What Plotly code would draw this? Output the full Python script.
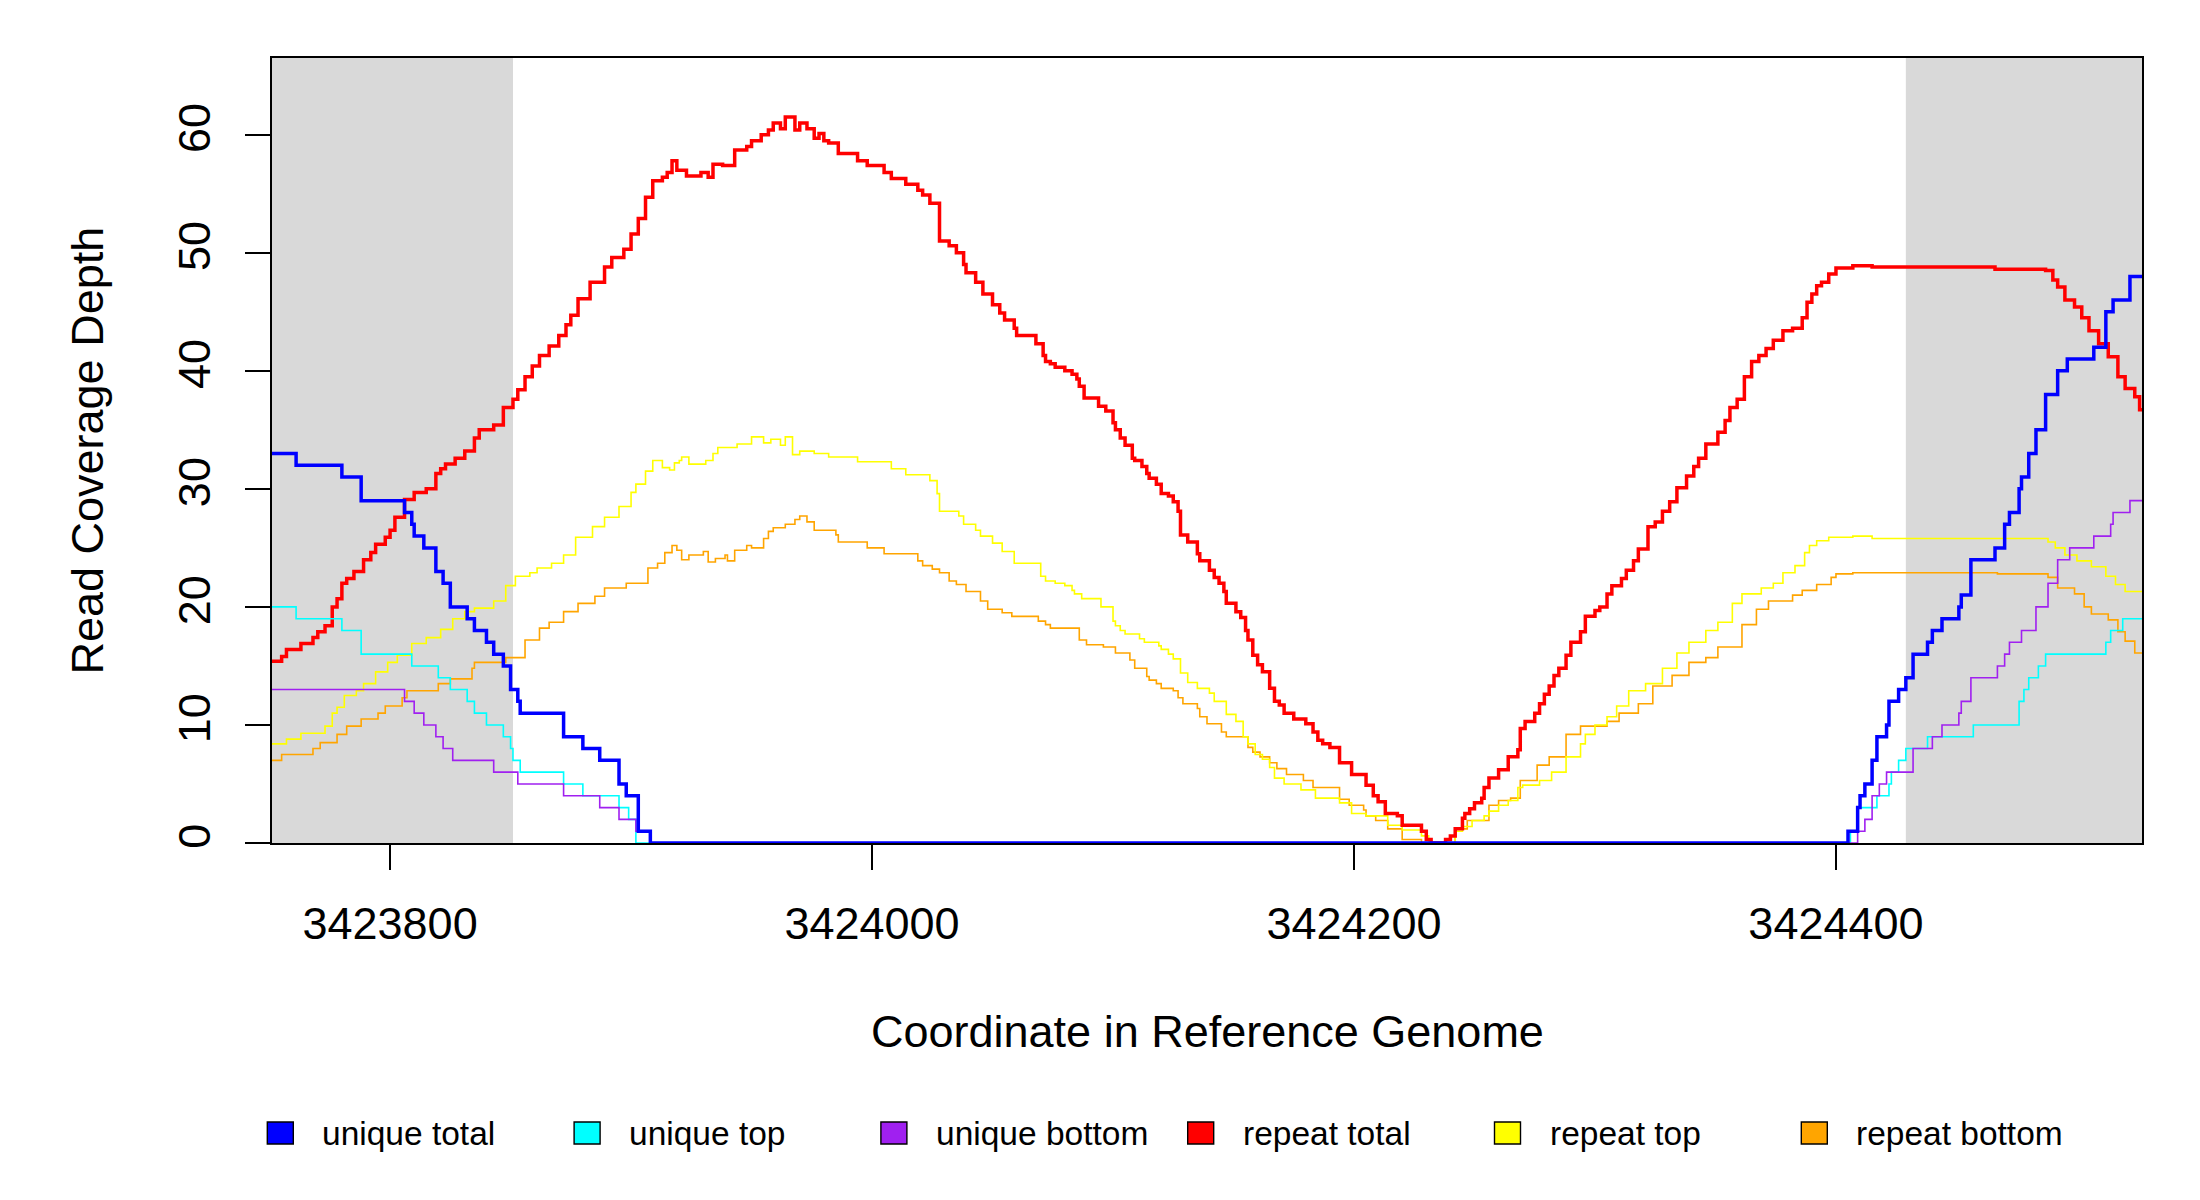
import plotly.graph_objects as go

# region shown and the two flanking windows (shaded)
x_start, x_end = 3423751, 3424527
flank_left = (3423751, 3423851)
flank_right = (3424429, 3424527)

x_ticks = [3423800, 3424000, 3424200, 3424400]
y_ticks = [0, 10, 20, 30, 40, 50, 60]

# unique reads
unique_total_pos = [3423751, 3423761, 3423780, 3423788, 3423806, 3423809, 3423810, 3423814, 3423819, 3423822,
                    3423825, 3423832, 3423835, 3423840, 3423843, 3423847, 3423850, 3423853, 3423854, 3423872,
                    3423880, 3423887, 3423895, 3423898, 3423903, 3423908,
                    3424405, 3424409, 3424410, 3424412, 3424415, 3424417, 3424421, 3424422, 3424426, 3424429,
                    3424432, 3424438, 3424440, 3424444, 3424451, 3424452, 3424456, 3424466, 3424470, 3424472,
                    3424476, 3424477, 3424480, 3424483, 3424487, 3424492, 3424496, 3424507, 3424512, 3424515,
                    3424522, 3424527]
unique_total = [33, 32, 31, 29, 28, 27, 26, 25, 23, 22, 20, 19, 18, 17, 16, 15, 13, 12, 11, 9, 8, 7, 5, 4, 1, 0,
                1, 3, 4, 5, 7, 9, 10, 12, 13, 14, 16, 17, 18, 19, 20, 21, 24, 25, 27, 28, 30, 31, 33, 35, 38, 40,
                41, 42, 45, 46, 48, 48]

unique_top_pos = [3423751, 3423761, 3423780, 3423788, 3423809, 3423820, 3423825, 3423832, 3423835, 3423840,
                  3423847, 3423850, 3423851, 3423854, 3423872, 3423880, 3423895, 3423899, 3423902,
                  3424406, 3424409, 3424417, 3424422, 3424423, 3424426, 3424429, 3424438, 3424457, 3424476,
                  3424478, 3424480, 3424484, 3424487, 3424512, 3424514, 3424519, 3424527]
unique_top = [20, 19, 18, 16, 15, 14, 13, 12, 11, 10, 9, 8, 7, 6, 5, 4, 3, 2, 0,
              1, 3, 4, 5, 6, 7, 8, 9, 10, 12, 13, 14, 15, 16, 17, 18, 19, 19]

unique_bottom_pos = [3423751, 3423806, 3423810, 3423814, 3423819, 3423822, 3423826, 3423843, 3423853, 3423872,
                     3423887, 3423895, 3423902, 3423908,
                     3424409, 3424412, 3424415, 3424418, 3424421, 3424432, 3424440, 3424444, 3424451, 3424452,
                     3424456, 3424467, 3424470, 3424472, 3424477, 3424483, 3424488, 3424492, 3424497, 3424507,
                     3424514, 3424515, 3424522, 3424527]
unique_bottom = [13, 12, 11, 10, 9, 8, 7, 6, 5, 4, 3, 2, 1, 0,
                 1, 2, 4, 5, 6, 8, 9, 10, 11, 12, 14, 15, 16, 17, 18, 20, 22, 24, 25, 26, 27, 28, 29, 29]

# repeat reads
repeat_total_pos = [
    3423751, 3423755, 3423757, 3423763, 3423768, 3423770, 3423773, 3423776, 3423778, 3423780,
    3423782, 3423785, 3423789, 3423792, 3423794, 3423798, 3423800, 3423802, 3423806, 3423810,
    3423815, 3423819, 3423821, 3423823, 3423827, 3423831, 3423835, 3423837, 3423843, 3423847,
    3423851, 3423853, 3423856, 3423859, 3423862, 3423866, 3423870, 3423873, 3423875, 3423878,
    3423883, 3423889, 3423892, 3423897, 3423900, 3423903, 3423906, 3423909, 3423913, 3423915,
    3423917, 3423919, 3423923, 3423929, 3423932, 3423934, 3423938, 3423943, 3423948, 3423950,
    3423954, 3423957, 3423959, 3423962, 3423964, 3423968, 3423970, 3423973, 3423976, 3423978,
    3423980, 3423982, 3423986, 3423994, 3423998, 3424005, 3424008, 3424014, 3424019, 3424021,
    3424024, 3424028, 3424032, 3424035, 3424038, 3424039, 3424043, 3424046, 3424050, 3424053,
    3424055, 3424059, 3424060, 3424068, 3424071, 3424072, 3424074, 3424076, 3424080, 3424083,
    3424085, 3424086, 3424088, 3424094, 3424097, 3424100, 3424101, 3424103, 3424105, 3424108,
    3424109, 3424112, 3424114, 3424115, 3424118, 3424120, 3424123, 3424125, 3424127, 3424128,
    3424131, 3424135, 3424136, 3424140, 3424142, 3424144, 3424146, 3424147, 3424151, 3424153,
    3424155, 3424156, 3424158, 3424160, 3424162, 3424165, 3424167, 3424169, 3424171, 3424175,
    3424180, 3424183, 3424185, 3424187, 3424190, 3424194, 3424199, 3424205, 3424208, 3424210,
    3424213, 3424218, 3424220, 3424228, 3424230, 3424232, 3424238, 3424240, 3424242, 3424245,
    3424246, 3424248, 3424250, 3424253, 3424254, 3424256, 3424260, 3424264, 3424268, 3424269,
    3424271, 3424275, 3424277, 3424279, 3424281, 3424283, 3424285, 3424288, 3424290, 3424294,
    3424296, 3424300, 3424302, 3424305, 3424307, 3424311, 3424313, 3424316, 3424318, 3424322,
    3424325, 3424328, 3424331, 3424334, 3424338, 3424341, 3424343, 3424346, 3424351, 3424354,
    3424356, 3424359, 3424362, 3424365, 3424368, 3424371, 3424374, 3424378, 3424382, 3424386,
    3424388, 3424390, 3424392, 3424394, 3424397, 3424400, 3424407, 3424415, 3424466, 3424487,
    3424490, 3424492, 3424495, 3424499, 3424502, 3424505, 3424509, 3424513, 3424517, 3424520,
    3424524, 3424526, 3424527]
repeat_total = [
    15.4, 15.8, 16.4, 16.9, 17.4, 17.9, 18.4, 20.0, 20.7, 22.0,
    22.4, 23.0, 24.0, 24.6, 25.3, 25.9, 26.5, 27.6, 29.1, 29.7,
    30.0, 31.3, 31.7, 32.1, 32.6, 33.2, 34.3, 35.0, 35.4, 36.9,
    37.6, 38.4, 39.5, 40.4, 41.3, 42.1, 43.0, 43.9, 44.7, 46.1,
    47.5, 48.8, 49.6, 50.3, 51.6, 52.9, 54.7, 56.1, 56.4, 56.8,
    57.8, 57.0, 56.5, 56.8, 56.4, 57.5, 57.4, 58.7, 59.0, 59.5,
    60.0, 60.4, 61.0, 60.5, 61.5, 60.4, 61.0, 60.5, 59.7, 60.1,
    59.5, 59.3, 58.4, 57.8, 57.4, 56.8, 56.3, 55.8, 55.3, 54.9,
    54.2, 51.0, 50.6, 50.0, 49.0, 48.3, 47.5, 46.5, 45.6, 44.9,
    44.3, 43.6, 43.0, 42.3, 41.3, 40.8, 40.6, 40.3, 40.0, 39.7,
    39.3, 38.7, 37.7, 37.0, 36.6, 35.6, 35.0, 34.3, 33.7, 32.6,
    32.4, 31.9, 31.3, 30.9, 30.4, 29.6, 29.4, 28.9, 28.1, 26.1,
    25.5, 24.5, 23.9, 23.1, 22.5, 22.0, 21.3, 20.3, 19.6, 19.1,
    18.0, 17.2, 15.9, 15.1, 14.5, 13.1, 12.0, 11.7, 11.0, 10.5,
    10.1, 9.4, 8.7, 8.4, 8.1, 6.8, 5.8, 4.9, 4.0, 3.5,
    2.5, 2.3, 1.5, 1.0, 0.3, 0.0, 0.3, 0.6, 1.2, 2.1,
    2.5, 2.9, 3.4, 3.8, 4.7, 5.5, 6.2, 7.3, 7.9, 9.7,
    10.3, 11.0, 11.8, 12.6, 13.3, 14.2, 14.8, 15.9, 17.0, 17.9,
    19.2, 19.7, 20.0, 21.1, 21.8, 22.4, 23.1, 23.9, 24.9, 26.8,
    27.2, 28.1, 28.9, 30.1, 31.1, 31.9, 32.6, 33.8, 34.8, 35.8,
    36.9, 37.6, 39.5, 40.8, 41.3, 41.9, 42.6, 43.4, 43.6, 44.5,
    45.8, 46.5, 47.2, 47.5, 48.2, 48.7, 48.9, 48.8, 48.6, 48.5,
    47.7, 47.1, 46.0, 45.4, 44.5, 43.4, 42.3, 41.2, 39.5, 38.5,
    37.8, 36.7, 36.7]

repeat_top_pos = [
    3423751, 3423757, 3423763, 3423773, 3423776, 3423778, 3423781, 3423786, 3423789, 3423794,
    3423799, 3423803, 3423809, 3423815, 3423821, 3423826, 3423831, 3423835, 3423843, 3423848,
    3423852, 3423858, 3423861, 3423867, 3423872, 3423877, 3423884, 3423889, 3423895, 3423900,
    3423902, 3423906, 3423909, 3423913, 3423916, 3423918, 3423920, 3423921, 3423924, 3423931,
    3423934, 3423936, 3423944, 3423950, 3423955, 3423958, 3423962, 3423964, 3423967, 3423970,
    3423976, 3423982, 3423994, 3424008, 3424014, 3424024, 3424027, 3424028, 3424036, 3424038,
    3424043, 3424045, 3424050, 3424054, 3424059, 3424070, 3424072, 3424076, 3424080, 3424083,
    3424084, 3424087, 3424095, 3424100, 3424101, 3424103, 3424105, 3424111, 3424113, 3424119,
    3424120, 3424123, 3424125, 3424128, 3424131, 3424135, 3424140, 3424142, 3424147, 3424151,
    3424154, 3424156, 3424159, 3424162, 3424165, 3424167, 3424171, 3424178, 3424184, 3424194,
    3424199, 3424205, 3424214, 3424220, 3424228, 3424231, 3424242, 3424245, 3424249, 3424254,
    3424256, 3424260, 3424264, 3424268, 3424270, 3424277, 3424282, 3424288, 3424294, 3424296,
    3424300, 3424305, 3424309, 3424314, 3424321, 3424328, 3424334, 3424339, 3424346, 3424351,
    3424357, 3424361, 3424369, 3424374, 3424378, 3424383, 3424387, 3424389, 3424392, 3424397,
    3424407, 3424415, 3424488, 3424491, 3424495, 3424500, 3424506, 3424512, 3424516, 3424520,
    3424527]
repeat_top = [
    8.4, 8.8, 9.3, 9.9, 11.0, 11.5, 12.5, 12.9, 13.5, 14.5,
    15.3, 15.9, 16.9, 17.4, 18.1, 19.0, 19.6, 19.9, 20.5, 21.8,
    22.6, 22.9, 23.3, 23.7, 24.4, 25.9, 26.8, 27.6, 28.5, 29.7,
    30.4, 31.5, 32.4, 31.8, 31.6, 32.2, 32.4, 32.7, 32.1, 32.4,
    33.0, 33.5, 33.8, 34.4, 33.9, 34.2, 33.7, 34.4, 32.9, 33.2,
    33.0, 32.7, 32.3, 31.7, 31.2, 30.7, 29.6, 28.1, 27.7, 27.0,
    26.5, 26.0, 25.4, 24.7, 23.7, 22.6, 22.2, 22.0, 21.8, 21.4,
    21.1, 20.7, 20.0, 18.8, 18.4, 18.0, 17.7, 17.3, 17.0, 16.7,
    16.4, 16.0, 15.6, 14.4, 13.6, 13.1, 12.7, 12.0, 10.9, 10.3,
    9.0, 8.4, 7.5, 7.1, 6.4, 5.5, 5.0, 4.5, 3.8, 3.4,
    2.5, 2.3, 1.5, 1.1, 0.6, 0.0, 1.0, 1.4, 1.9, 2.3,
    2.7, 3.2, 3.6, 4.7, 4.9, 5.3, 6.0, 7.3, 8.4, 9.2,
    10.0, 10.7, 11.6, 12.9, 13.5, 14.8, 16.1, 17.0, 18.0, 18.7,
    20.3, 21.1, 21.6, 22.0, 22.9, 23.5, 24.6, 25.2, 25.6, 25.9,
    26.0, 25.8, 25.5, 25.0, 24.4, 23.9, 23.4, 22.6, 21.9, 21.3,
    21.3]

repeat_bottom_pos = [
    3423751, 3423755, 3423768, 3423771, 3423778, 3423782, 3423788, 3423795, 3423798, 3423805,
    3423807, 3423820, 3423825, 3423834, 3423835, 3423848, 3423856, 3423862, 3423866, 3423872,
    3423878, 3423885, 3423889, 3423898, 3423907, 3423911, 3423914, 3423917, 3423919, 3423921,
    3423924, 3423930, 3423932, 3423935, 3423939, 3423940, 3423943, 3423948, 3423950, 3423955,
    3423957, 3423959, 3423964, 3423968, 3423970, 3423973, 3423976, 3423985, 3423986, 3423998,
    3424005, 3424019, 3424021, 3424025, 3424028, 3424032, 3424035, 3424039, 3424045, 3424048,
    3424054, 3424058, 3424069, 3424072, 3424074, 3424086, 3424089, 3424096, 3424101, 3424107,
    3424109, 3424114, 3424115, 3424118, 3424120, 3424125, 3424127, 3424129, 3424135, 3424136,
    3424139, 3424145, 3424147, 3424156, 3424158, 3424161, 3424165, 3424168, 3424172, 3424179,
    3424183, 3424194, 3424198, 3424204, 3424205, 3424209, 3424214, 3424220, 3424228, 3424242,
    3424247, 3424256, 3424260, 3424265, 3424269, 3424276, 3424281, 3424288, 3424294, 3424305,
    3424310, 3424318, 3424324, 3424332, 3424339, 3424346, 3424351, 3424361, 3424367, 3424372,
    3424382, 3424386, 3424392, 3424398, 3424400, 3424407, 3424467, 3424488, 3424492, 3424499,
    3424503, 3424506, 3424513, 3424517, 3424520, 3424524, 3424527]
repeat_bottom = [
    7.0, 7.5, 8.0, 8.5, 9.2, 9.9, 10.5, 11.0, 11.6, 12.3,
    12.9, 13.5, 13.9, 14.8, 15.3, 15.7, 17.2, 18.2, 18.7, 19.6,
    20.3, 20.9, 21.6, 22.0, 23.3, 23.7, 24.6, 25.2, 24.8, 24.0,
    24.4, 24.7, 23.8, 24.1, 24.4, 23.9, 24.8, 25.2, 25.0, 25.8,
    26.4, 26.7, 27.0, 27.4, 27.7, 27.2, 26.5, 26.1, 25.5, 25.0,
    24.5, 23.9, 23.5, 23.2, 22.9, 22.2, 21.9, 21.3, 20.5, 19.8,
    19.5, 19.2, 18.8, 18.5, 18.2, 17.2, 16.8, 16.6, 16.1, 15.5,
    14.8, 14.1, 13.8, 13.5, 13.1, 12.9, 12.3, 11.8, 11.4, 10.7,
    10.1, 9.4, 9.0, 8.1, 7.7, 7.3, 6.8, 6.3, 5.8, 5.3,
    4.7, 3.7, 3.2, 2.8, 2.3, 1.9, 1.2, 0.3, 0.0, 1.2,
    1.9, 3.2, 3.6, 3.8, 5.3, 6.6, 7.3, 9.2, 9.9, 10.3,
    11.0, 11.8, 13.3, 14.2, 15.3, 15.7, 16.6, 18.5, 19.8, 20.5,
    21.0, 21.4, 21.9, 22.5, 22.8, 22.9, 22.8, 22.5, 21.6, 21.1,
    20.0, 19.4, 18.9, 17.9, 17.1, 16.1, 16.1]

# name, colour, line width, positions, depths  (drawing order: repeat first, unique on top)
series = [
    ("repeat bottom", "#FFA500", 1.6, repeat_bottom_pos, repeat_bottom),
    ("repeat top", "#FFFF00", 1.6, repeat_top_pos, repeat_top),
    ("repeat total", "#FF0000", 3.5, repeat_total_pos, repeat_total),
    ("unique top", "#00FFFF", 1.6, unique_top_pos, unique_top),
    ("unique bottom", "#A020F0", 1.6, unique_bottom_pos, unique_bottom),
    ("unique total", "#0000FF", 3.5, unique_total_pos, unique_total),
]
legend_order = ["unique total", "unique top", "unique bottom", "repeat total", "repeat top", "repeat bottom"]
colors = {s[0]: s[1] for s in series}

FONT = "Liberation Sans, Arial, sans-serif"

# plot area in page pixels (the page body adds an 8px offset, margins below are trimmed for it)
PLOT_L, PLOT_W, PLOT_B, PLOT_H = 272, 1870, 843, 785


def px_to_paper(px, py):
    return (px - PLOT_L) / PLOT_W, (PLOT_B - py) / PLOT_H


fig = go.Figure()

for name, color, width, pos, depth in series:
    fig.add_trace(go.Scatter(x=pos, y=depth, mode="lines", line=dict(color=color, width=width, shape="hv"),
                             name=name, showlegend=False, hoverinfo="x+y+name"))

for x0, x1 in (flank_left, flank_right):
    fig.add_shape(type="rect", xref="x", yref="paper", x0=x0, x1=x1, y0=0, y1=1,
                  fillcolor="#D9D9D9", line=dict(width=0), layer="below")

# R-style legend: filled boxes with black border, one row under the axis title
annotations = [
    dict(text="Coordinate in Reference Genome", xref="paper", yref="paper", x=0.5, y=-0.2395,
         showarrow=False, xanchor="center", yanchor="middle", font=dict(size=45)),
    dict(text="Read Coverage Depth", xref="paper", yref="paper", x=-0.0989, y=0.5, textangle=-90,
         showarrow=False, xanchor="center", yanchor="middle", font=dict(size=45)),
]
for i, name in enumerate(legend_order):
    cx = 280.3 + 306.8 * i
    bx0, by0 = px_to_paper(cx - 13, 1144)
    bx1, by1 = px_to_paper(cx + 13, 1122)
    fig.add_shape(type="rect", xref="paper", yref="paper", x0=bx0, x1=bx1, y0=by0, y1=by1,
                  fillcolor=colors[name], line=dict(color="black", width=1.4))
    tx, ty = px_to_paper(cx + 40, 1133)
    annotations.append(dict(text=name, xref="paper", yref="paper", x=tx, y=ty, showarrow=False,
                            xanchor="left", yanchor="middle", font=dict(size=33.5)))

fig.update_layout(
    width=2200, height=1200,
    margin=dict(l=264, r=66, t=50, b=365),
    plot_bgcolor="white", paper_bgcolor="white",
    font=dict(family=FONT, size=45, color="black"),
    showlegend=False,
    annotations=annotations,
)

fig.update_xaxes(range=[x_start, x_end], tickvals=x_ticks, ticktext=[str(t) for t in x_ticks],
                 ticks="outside", ticklen=25, tickwidth=2, tickcolor="black", ticklabelstandoff=15,
                 showline=True, mirror=True, linecolor="black", linewidth=2,
                 showgrid=False, zeroline=False)
fig.update_yaxes(range=[0, 66.5], tickvals=y_ticks, tickangle=-90,
                 ticks="outside", ticklen=25, tickwidth=2, tickcolor="black", ticklabelstandoff=17,
                 showline=True, mirror=True, linecolor="black", linewidth=2,
                 showgrid=False, zeroline=False)

fig.write_html("out.html")
